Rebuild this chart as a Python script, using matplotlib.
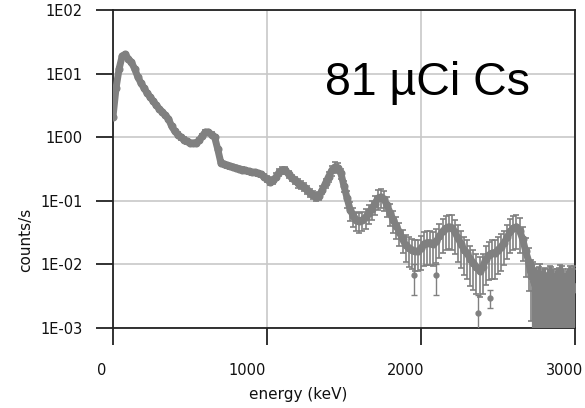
import numpy as np
import matplotlib.pyplot as plt
from matplotlib.transforms import ScaledTranslation

# =====================
# Data
# =====================
energy = [
    0, 20, 40, 60, 80, 100, 120, 140, 160, 180,
    200, 220, 240, 260, 280, 300, 320, 340, 360, 380,
    400, 420, 440, 460, 480, 500, 520, 540, 560, 580,
    600, 620, 640, 660, 680, 700, 720, 740, 760, 780,
    800, 820, 840, 860, 880, 900, 920, 940, 960, 980,
    1000, 1020, 1040, 1060, 1080, 1100, 1120, 1140, 1160, 1180,
    1200, 1220, 1240, 1260, 1280, 1300, 1320, 1340, 1360, 1380,
    1400, 1420, 1440, 1460, 1480, 1500, 1520, 1540, 1560, 1580,
    1600, 1620, 1640, 1660, 1680, 1700, 1720, 1740, 1760, 1780,
    1800, 1820, 1840, 1860, 1880, 1900, 1920, 1940, 1960, 1980,
    2000, 2020, 2040, 2060, 2080, 2100, 2120, 2140, 2160, 2180,
    2200, 2220, 2240, 2260, 2280, 2300, 2320, 2340, 2360, 2380,
    2400, 2420, 2440, 2460, 2480, 2500, 2520, 2540, 2560, 2580,
    2600, 2620, 2640, 2660, 2680, 2700, 2715,
]
counts = [
    2.1, 6.0, 12.0, 19.0, 20.0, 17.0, 15.0, 12.0, 9.0, 7.2,
    6.0, 5.0, 4.3, 3.7, 3.2, 2.8, 2.5, 2.2, 1.95, 1.5,
    1.25, 1.1, 1.0, 0.92, 0.86, 0.82, 0.80, 0.82, 0.90, 1.05,
    1.2, 1.2, 1.1, 1.0, 0.65, 0.40, 0.38, 0.36, 0.35, 0.34,
    0.33, 0.32, 0.31, 0.30, 0.29, 0.28, 0.28, 0.27, 0.26, 0.24,
    0.22, 0.20, 0.21, 0.24, 0.28, 0.30, 0.30, 0.26, 0.23, 0.21,
    0.19, 0.18, 0.165, 0.15, 0.135, 0.125, 0.115, 0.12, 0.15, 0.19,
    0.24, 0.30, 0.34, 0.33, 0.27, 0.17, 0.11, 0.072, 0.058, 0.050,
    0.048, 0.050, 0.055, 0.065, 0.075, 0.09, 0.11, 0.115, 0.105, 0.085,
    0.064, 0.050, 0.040, 0.032, 0.025, 0.020, 0.018, 0.017, 0.016, 0.016,
    0.018, 0.021, 0.022, 0.022, 0.021, 0.023, 0.028, 0.033, 0.037, 0.039,
    0.038, 0.032, 0.026, 0.021, 0.017, 0.015, 0.012, 0.0105, 0.009, 0.008,
    0.009, 0.012, 0.014, 0.015, 0.015, 0.017, 0.019, 0.022, 0.027, 0.033,
    0.037, 0.039, 0.034, 0.025, 0.016, 0.011, 0.0065,
]
rel_err = [
    0.06, 0.06, 0.05, 0.05, 0.05, 0.05, 0.05, 0.05, 0.05, 0.05,
    0.06, 0.06, 0.06, 0.06, 0.06, 0.06, 0.06, 0.06, 0.06, 0.06,
    0.08, 0.08, 0.08, 0.08, 0.08, 0.08, 0.08, 0.08, 0.08, 0.08,
    0.08, 0.08, 0.08, 0.08, 0.08, 0.08, 0.08, 0.08, 0.08, 0.08,
    0.08, 0.08, 0.08, 0.08, 0.08, 0.08, 0.08, 0.08, 0.08, 0.08,
    0.10, 0.12, 0.12, 0.12, 0.12, 0.12, 0.12, 0.12, 0.12, 0.12,
    0.15, 0.15, 0.15, 0.15, 0.15, 0.15, 0.15, 0.15, 0.15, 0.15,
    0.18, 0.18, 0.18, 0.18, 0.18, 0.20, 0.30, 0.32, 0.34, 0.34,
    0.34, 0.34, 0.34, 0.34, 0.34, 0.34, 0.34, 0.34, 0.34, 0.34,
    0.38, 0.38, 0.38, 0.40, 0.40, 0.45, 0.50, 0.50, 0.50, 0.50,
    0.55, 0.55, 0.55, 0.55, 0.55, 0.55, 0.55, 0.55, 0.55, 0.55,
    0.55, 0.55, 0.58, 0.58, 0.60, 0.60, 0.62, 0.62, 0.62, 0.62,
    0.62, 0.60, 0.60, 0.60, 0.60, 0.58, 0.58, 0.55, 0.55, 0.55,
    0.55, 0.55, 0.55, 0.55, 0.60, 0.65, 0.80,
]

# high-energy tail: near-background counts, error bars run off the bottom
tail_energy = [
    2725, 2735, 2745, 2755, 2765, 2775, 2785, 2795, 2805, 2815,
    2825, 2835, 2845, 2855, 2865, 2875, 2885, 2895, 2905, 2915,
    2925, 2935, 2945, 2955, 2965, 2975, 2985, 2995,
]
tail_counts = [
    0.0055, 0.005, 0.0042, 0.004, 0.0045, 0.0045, 0.0038, 0.004, 0.0042, 0.0035,
    0.004, 0.0045, 0.0042, 0.004, 0.0035, 0.0038, 0.004, 0.0042, 0.0045, 0.0045,
    0.004, 0.0035, 0.0038, 0.004, 0.0045, 0.0042, 0.004, 0.0045,
]
tail_err = [
    0.0055, 0.005, 0.0045, 0.0042, 0.0047, 0.0055, 0.004, 0.0045, 0.0046, 0.0038,
    0.0045, 0.005, 0.0048, 0.0045, 0.0038, 0.0042, 0.0045, 0.0046, 0.0052, 0.0048,
    0.0045, 0.0037, 0.004, 0.0046, 0.005, 0.0046, 0.0045, 0.005,
]

# stray low points with long error bars
outlier_energy = [1955, 2097, 2370, 2448]
outlier_counts = [0.0068, 0.0068, 0.0017, 0.003]
outlier_err = [0.0035, 0.0035, 0.0016, 0.0009]

label_text = "81 µCi Cs"
x_ticks = [0, 1000, 2000, 3000]
x_label_shift = [-11, -20, -15, -10]  # px, labels sit left of their ticks
y_ticks = [1e-3, 1e-2, 1e-1, 1e0, 1e1, 1e2]
y_tick_labels = ["1E-03", "1E-02", "1E-01", "1E00", "1E01", "1E02"]

# =====================
# Plot
# =====================
GRAY = "#808080"

fig = plt.figure(figsize=(5.85, 4.08), dpi=100)
ax = fig.add_axes([113 / 585, 1 - 328 / 408, 462 / 585, 318 / 408])

yerr = np.array(counts) * np.array(rel_err)
# dense channels read as a solid band
ax.plot(energy, counts, color=GRAY, lw=5.0, solid_capstyle="round", zorder=3)
ax.errorbar(energy, counts, yerr=yerr, fmt="o", color=GRAY, ms=4.8,
            elinewidth=1.2, capsize=2.5, capthick=1.2, zorder=3)
ax.errorbar(tail_energy, tail_counts, yerr=tail_err, fmt="o", color=GRAY, ms=4,
            elinewidth=1.6, capsize=2.5, capthick=1.2, zorder=3)
ax.errorbar(outlier_energy, outlier_counts, yerr=outlier_err, fmt="o", color=GRAY,
            ms=3.5, elinewidth=1.0, capsize=2.2, capthick=1.0, zorder=3)

ax.set_yscale("log")
ax.set_xlim(0, 3000)
ax.set_ylim(1e-3, 1e2)
ax.set_xticks(x_ticks)
ax.set_xticklabels([str(t) for t in x_ticks])
ax.set_yticks(y_ticks)
ax.set_yticklabels(y_tick_labels)
ax.minorticks_off()

ax.grid(True, color="#c8c8c8", linewidth=1.2, zorder=0)
ax.set_axisbelow(True)
for s in ax.spines.values():
    s.set_color("#222222")
    s.set_linewidth(1.3)

ax.tick_params(axis="both", direction="out", length=12, width=1.3, color="#222222",
               labelsize=10.5, labelcolor="#111111")
ax.tick_params(axis="x", pad=13)
ax.tick_params(axis="y", pad=10)
for lbl, dx in zip(ax.get_xticklabels(), x_label_shift):
    lbl.set_transform(lbl.get_transform() + ScaledTranslation(dx / 100, 0, fig.dpi_scale_trans))

ax.set_xlabel("energy (keV)", fontsize=11, color="#111111")
ax.set_ylabel("counts/s", fontsize=11, color="#111111")
ax.xaxis.set_label_coords(0.40, -0.186)
ax.yaxis.set_label_coords(-0.173, 0.277)

ax.text(0.459, 0.733, label_text, transform=ax.transAxes, fontsize=33.5,
        family="Liberation Sans", va="baseline", ha="left", color="black")

fig.savefig("out.png", dpi=100)
